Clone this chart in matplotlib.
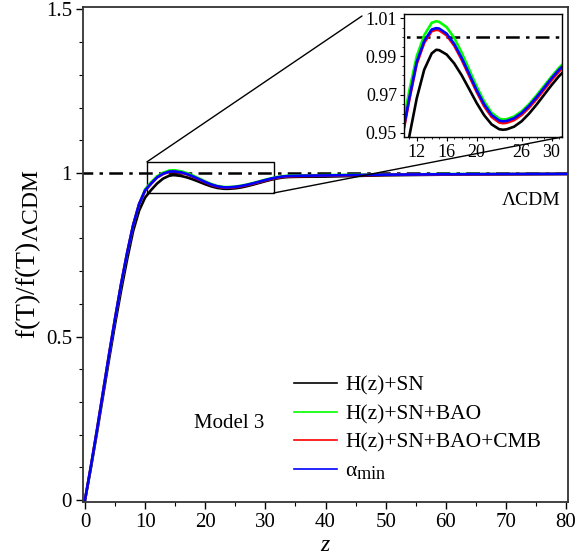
import matplotlib
matplotlib.use("Agg")
import matplotlib.pyplot as plt
import matplotlib._mathtext as _mt
from matplotlib.patches import Rectangle, ConnectionPatch
from matplotlib.ticker import MultipleLocator, FixedLocator, FuncFormatter

_mt.SHRINK_FACTOR = 0.85

plt.rcParams['font.family'] = ['Liberation Serif', 'DejaVu Serif']
plt.rcParams['mathtext.fontset'] = 'custom'
plt.rcParams['mathtext.rm'] = 'Liberation Serif'
plt.rcParams['mathtext.it'] = 'Liberation Serif:italic'

# ---- data ----
z = [0, 1, 2, 3, 4, 5, 6, 7, 8, 9, 10, 11, 12, 13, 14, 14.6, 15, 16, 17, 18, 19, 20,
     21, 22, 23, 23.5, 24, 25, 26, 27, 28, 29, 30, 31, 32, 33, 34, 36, 40, 45, 50,
     60, 70, 80]
f_hsn = [0, 0.100, 0.207, 0.318, 0.430, 0.538, 0.640, 0.735, 0.822, 0.885, 0.925,
         0.948, 0.968, 0.983, 0.9915, 0.9934, 0.9932, 0.9909, 0.9863, 0.9801, 0.9729,
         0.9656, 0.9592, 0.9544, 0.9519, 0.9516, 0.9518, 0.9532, 0.9560, 0.9600,
         0.9647, 0.9698, 0.9749, 0.9796, 0.9836, 0.9864, 0.9878, 0.9885, 0.9890,
         0.9910, 0.9930, 0.9950, 0.9960, 0.9970]
f_hsn_bao = [0, 0.105, 0.215, 0.330, 0.445, 0.555, 0.660, 0.755, 0.840, 0.905, 0.950,
             0.972, 0.990, 1.0010, 1.0075, 1.0083, 1.0080, 1.0052, 0.9996, 0.9919,
             0.9831, 0.9742, 0.9664, 0.9605, 0.9574, 0.9570, 0.9571, 0.9585, 0.9612,
             0.9650, 0.9696, 0.9745, 0.9794, 0.9840, 0.9878, 0.9905, 0.9919, 0.9928,
             0.9935, 0.9945, 0.9955, 0.9965, 0.9970, 0.9975]
f_hsn_bao_cmb = [0, 0.105, 0.215, 0.330, 0.445, 0.555, 0.660, 0.755, 0.840, 0.905,
                 0.946, 0.967, 0.986, 0.997, 1.0031, 1.0038, 1.0036, 1.0009, 0.9956,
                 0.9882, 0.9798, 0.9714, 0.9639, 0.9583, 0.9554, 0.9550, 0.9552,
                 0.9566, 0.9593, 0.9631, 0.9676, 0.9725, 0.9775, 0.9820, 0.9858,
                 0.9885, 0.9899, 0.9908, 0.9918, 0.9932, 0.9945, 0.9958, 0.9966, 0.9972]
f_alpha_min = [0, 0.105, 0.215, 0.330, 0.445, 0.555, 0.660, 0.755, 0.840, 0.905,
               0.947, 0.968, 0.987, 0.998, 1.0040, 1.0047, 1.0045, 1.0018, 0.9965,
               0.9892, 0.9808, 0.9723, 0.9649, 0.9593, 0.9564, 0.9560, 0.9562,
               0.9576, 0.9603, 0.9641, 0.9686, 0.9735, 0.9785, 0.9830, 0.9868,
               0.9895, 0.9909, 0.9917, 0.9925, 0.9938, 0.9950, 0.9961, 0.9968, 0.9973]

series = [
    ("H(z)+SN", f_hsn, "black"),
    ("H(z)+SN+BAO", f_hsn_bao, "#00ff00"),
    ("H(z)+SN+BAO+CMB", f_hsn_bao_cmb, "#ff0000"),
    ("\u03b1$_{\\mathrm{min}}$", f_alpha_min, "#0000ff"),
]

lcdm_level = 1.0
main_xticks = [0, 10, 20, 30, 40, 50, 60, 70, 80]
main_yticks = [0, 0.5, 1, 1.5]
inset_xticks = [12, 16, 20, 26, 30]
inset_yticks = [0.95, 0.97, 0.99, 1.01]
zoom_box = (10.3, 31.4, 0.939, 1.034)

W, H = 578, 558
fig = plt.figure(figsize=(W / 100, H / 100), dpi=100)

def px_axes(l, t, r, b):
    return [l / W, 1 - b / H, (r - l) / W, (b - t) / H]

ax = fig.add_axes(px_axes(83, 7, 568, 502))
dd = (0, (5.5, 2.5, 1.4, 2.5))
ax.plot([-1, 81], [lcdm_level, lcdm_level], color='black', lw=1.8, linestyle=dd)
for label, vals, col in series:
    ax.plot(z, vals, color=col, lw=1.9, label=label)

ax.set_xlim(-0.33, 80.33)
ax.set_ylim(-0.006, 1.5076)
ax.xaxis.set_major_locator(FixedLocator(main_xticks))
ax.xaxis.set_minor_locator(MultipleLocator(5))
ax.yaxis.set_major_locator(FixedLocator(main_yticks))
ax.yaxis.set_minor_locator(MultipleLocator(0.1))
ax.yaxis.set_major_formatter(FuncFormatter(lambda v, p: f"{v:g}"))
ax.tick_params(axis='both', which='major', direction='out', length=5, width=1,
               labelsize=15, pad=3)
ax.tick_params(axis='both', which='minor', direction='out', length=3, width=0.8)
for s in ax.spines.values():
    s.set_linewidth(1.3)
    s.set_color('#333333')

ax.set_xlabel("$z$", fontsize=17, labelpad=2)
ax.set_ylabel("f(T)/f(T)$_{\\mathrm{\u039bCDM}}$", fontsize=20, labelpad=2)

ax.text(74.2, 0.917, "\u039bCDM", fontsize=14, ha='center', va='center')
ax.text(24.0, 0.235, "Model 3", fontsize=15, ha='center', va='center')

leg = ax.legend(loc='upper left', bbox_to_anchor=(283 / W, 1 - 365 / H),
                bbox_transform=fig.transFigure, frameon=False, fontsize=15.5,
                handlelength=2.0, handletextpad=0.4, labelspacing=0.39,
                borderpad=0)
for line in leg.get_lines():
    line.set_linewidth(1.2)

x0, x1, y0, y1 = zoom_box
ax.add_patch(Rectangle((x0, y0), x1 - x0, y1 - y0, fill=False, ec='black', lw=1.0))

# inset
axins = fig.add_axes(px_axes(404, 14, 562, 137))
axins.plot([0, 40], [lcdm_level, lcdm_level], color='black', lw=1.8, linestyle=dd)
for label, vals, col in series:
    axins.plot(z, vals, color=col, lw=1.9)
axins.set_xlim(x0, x1)
axins.set_ylim(0.9478, 1.0121)
axins.xaxis.set_major_locator(FixedLocator(inset_xticks))
axins.xaxis.set_minor_locator(MultipleLocator(1))
axins.yaxis.set_major_locator(FixedLocator(inset_yticks))
axins.yaxis.set_minor_locator(MultipleLocator(0.005))
axins.yaxis.set_major_formatter(FuncFormatter(lambda v, p: f"{v:.2f}"))
axins.tick_params(axis='both', which='major', direction='out', length=3, width=0.8,
                  labelsize=13, pad=2)
axins.tick_params(axis='both', which='minor', direction='out', length=1.5, width=0.6)
for s in axins.spines.values():
    s.set_linewidth(1.0)

c1 = ConnectionPatch(xyA=(x0, y1), coordsA=ax.transData, xyB=(362, H - 16),
                     coordsB='figure pixels', color='black', lw=1.0)
c2 = ConnectionPatch(xyA=(x1, y0), coordsA=ax.transData, xyB=(1, 0),
                     coordsB=axins.transAxes, color='black', lw=1.0)
fig.add_artist(c1)
fig.add_artist(c2)

fig.savefig("out.png", dpi=100)
